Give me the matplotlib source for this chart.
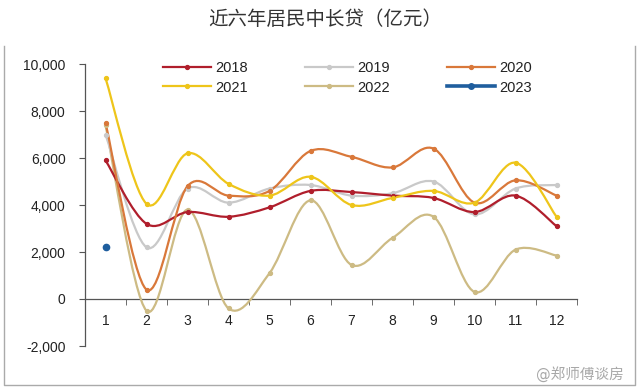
import numpy as np
import matplotlib
matplotlib.use('Agg')
import matplotlib.pyplot as plt
from matplotlib.path import Path
from matplotlib.patches import PathPatch
from matplotlib.lines import Line2D

months = list(range(1, 13))
month_labels = [str(m) for m in months]
years = ['2018', '2019', '2020', '2021', '2022', '2023']
s2018 = [5900, 3200, 3700, 3500, 3900, 4600, 4550, 4400, 4300, 3700, 4400, 3100]
s2019 = [7000, 2200, 4700, 4100, 4700, 4850, 4400, 4500, 5000, 3600, 4700, 4850]
s2020 = [7500, 400, 4800, 4400, 4600, 6300, 6050, 5600, 6400, 4100, 5050, 4400]
s2021 = [9400, 4050, 6200, 4900, 4400, 5200, 4000, 4300, 4600, 4100, 5800, 3500]
s2022 = [7400, -500, 3800, -400, 1100, 4200, 1450, 2600, 3500, 300, 2100, 1850]
s2023 = [2200]
yticks = [-2000, 0, 2000, 4000, 6000, 8000, 10000]
title = '近六年居民中长贷（亿元）'

colors = {'2018': '#B01E2C', '2019': '#C9C9C9', '2020': '#D9783A',
          '2021': '#EEC51A', '2022': '#CDBB84', '2023': '#1F5E9E'}
series = {'2018': s2018, '2019': s2019, '2020': s2020, '2021': s2021, '2022': s2022}


def smooth_path(xs, ys):
    pts = np.column_stack([xs, ys]).astype(float)
    n = len(pts)
    verts = [pts[0]]
    codes = [Path.MOVETO]
    for i in range(n - 1):
        p0 = pts[i - 1] if i > 0 else pts[i]
        p1 = pts[i]
        p2 = pts[i + 1]
        p3 = pts[i + 2] if i + 2 < n else pts[i + 1]
        c1 = p1 + (p2 - p0) / 6.0
        c2 = p2 - (p3 - p1) / 6.0
        verts += [c1, c2, p2]
        codes += [Path.CURVE4] * 3
    return Path(verts, codes)


fig = plt.figure(figsize=(6.4, 3.88), dpi=100)
fig.patch.set_facecolor('white')
ax = fig.add_axes([85 / 640, 1 - 346 / 388, (577 - 85) / 640, (346 - 64) / 388])

order = ['2022', '2019', '2018', '2020', '2021']
for yr in order:
    vals = series[yr]
    p = smooth_path(months, vals)
    ax.add_patch(PathPatch(p, fill=False, edgecolor=colors[yr], lw=1.6, zorder=3))
    ax.plot(months, vals, 'o', ms=2.8, color=colors[yr], zorder=4)
ax.plot(months[:len(s2023)], s2023, 'o', ms=4.5, color=colors['2023'], zorder=5)

ax.set_xlim(0.5, 12.5)
ax.set_ylim(-2000, 10000)
ax.set_yticks(yticks)
ax.set_yticklabels([f'{v:,}' for v in yticks])
ax.set_xticks(months)
ax.set_xticklabels(month_labels)
ax.set_xticks(np.arange(0.5, 13, 1), minor=True)

for s in ['top', 'right']:
    ax.spines[s].set_visible(False)
ax.spines['bottom'].set_position(('data', 0))
ax.spines['bottom'].set_color('#555555')
ax.spines['left'].set_color('#555555')
ax.spines['bottom'].set_linewidth(0.9)
ax.spines['left'].set_linewidth(0.9)
ax.tick_params(axis='x', which='major', length=0, pad=11, labelsize=10, labelcolor='#222222')
ax.tick_params(axis='x', which='minor', length=4, direction='out', color='#555555')
ax.tick_params(axis='y', length=4, direction='out', color='#555555', labelsize=10,
               labelcolor='#222222', pad=10)
for lab in ax.get_xticklabels() + ax.get_yticklabels():
    lab.set_fontfamily(['Liberation Sans', 'DejaVu Sans'])

# legend filled row-wise: 3 columns x 2 rows
leg_order = ['2018', '2021', '2019', '2022', '2020', '2023']
handles = []
for yr in leg_order:
    lw = 2.6 if yr == '2023' else 1.6
    ms = 4 if yr == '2023' else 2.8
    handles.append(Line2D([0], [0], color=colors[yr], lw=lw, marker='o', ms=ms))
leg = fig.legend(handles, leg_order, ncol=3, loc='center', bbox_to_anchor=(0.543, 0.80),
                 frameon=False, handlelength=3.3, columnspacing=3.9, labelspacing=0.4,
                 handletextpad=0.3, numpoints=1,
                 prop={'family': ['Liberation Sans', 'DejaVu Sans'], 'size': 10.5})
for t in leg.get_texts():
    t.set_color('#222222')

fig.text(0.508, 1 - 19 / 388, title, ha='center', va='center', fontsize=14,
         color='#333333', family=['Noto Sans CJK SC', 'DejaVu Sans'])

# frame around the chart area (left, right, bottom)
fx = [4 / 640, 4 / 640, 635 / 640, 635 / 640]
fy = [1 - 46 / 388, 3 / 388, 3 / 388, 1 - 46 / 388]
fig.add_artist(Line2D(fx, fy, transform=fig.transFigure, color='#AAAAAA', lw=1.0))

fig.text(0.975, 0.035, '@郑师傅谈房', ha='right', va='center', fontsize=10.5,
         color='#A8A8A8', family=['DejaVu Sans', 'Noto Sans CJK SC'])

fig.savefig('out.png', dpi=100, facecolor='white')
